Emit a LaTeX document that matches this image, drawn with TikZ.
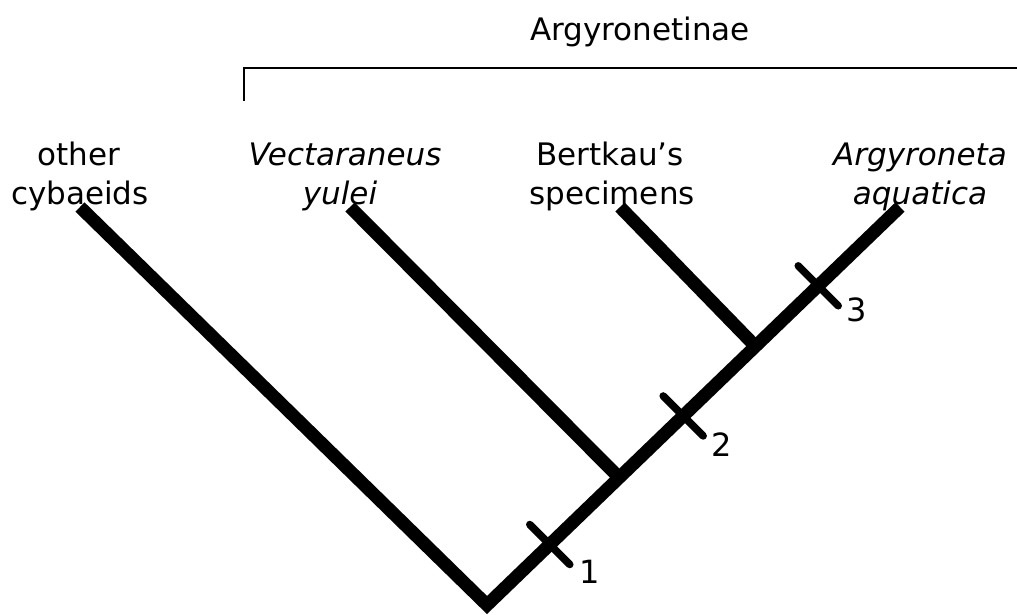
\documentclass[tikz,border=0pt]{standalone}
\usepackage{fontspec}
\setmainfont{DejaVu Sans}
\usetikzlibrary{calc}
\begin{document}
\begin{tikzpicture}[x=1pt,y=-1pt,
  branch/.style={line width=13pt, line join=miter, line cap=butt},
  tickmark/.style={line width=7.5pt, line cap=round},
  bracketline/.style={line width=2pt},
  lbl/.style={anchor=base, inner sep=0pt, font=\fontsize{31}{40}\selectfont},
  numlbl/.style={anchor=center, inner sep=0pt, font=\fontsize{32}{40}\selectfont}]
\useasboundingbox (0,0) rectangle (1017,615);
% tree coordinates
\coordinate (root) at (487,605);
\coordinate (tL) at (80,207);
\coordinate (tV) at (350,207);
\coordinate (tB) at (620,207);
\coordinate (tA) at (900,207);
\coordinate (jV) at ($(root)!0.32!(tA)$);
\coordinate (jB) at ($(root)!0.65!(tA)$);
\draw[branch] (tL) -- (root) -- (tA);
\draw[branch] (tV) -- (jV);
\draw[branch] (tB) -- (jB);
% ticks
\coordinate (k1) at ($(root)!0.152!(tA)$);
\coordinate (k2) at ($(root)!0.475!(tA)$);
\coordinate (k3) at ($(root)!0.802!(tA)$);
\draw[tickmark] ($(k1)+(-20,-20)$) coordinate (k1a) -- ($(k1)+(20,20)$) coordinate (k1b);
\draw[tickmark] ($(k2)+(-20,-20)$) coordinate (k2a) -- ($(k2)+(20,20)$) coordinate (k2b);
\draw[tickmark] ($(k3)+(-20,-20)$) coordinate (k3a) -- ($(k3)+(20,20)$) coordinate (k3b);
\node[numlbl] (n1) at (590,572) {1};
\node[numlbl] (n2) at (722,445) {2};
\node[numlbl] (n3) at (857,310) {3};
% bracket
\coordinate (bA) at (244,101);
\coordinate (bB) at (244,68);
\coordinate (bC) at (1017,68);
\draw[bracketline] (bA) -- (bB) -- (bC);
\node[lbl] (arg) at (640,41) {Argyronetinae};
% labels
\node[lbl] (l1a) at (79,165) {other};
\node[lbl] (l1b) at (80,204) {cybaeids};
\node[lbl] (l2a) at (345,165) {\itshape Vectaraneus};
\node[lbl] (l2b) at (340,204) {\itshape yulei};
\node[lbl] (l3a) at (610,165) {Bertkau’s};
\node[lbl] (l3b) at (612,204) {specimens};
\node[lbl] (l4a) at (920,165) {\itshape Argyroneta};
\node[lbl] (l4b) at (920,204) {\itshape aquatica};
\end{tikzpicture}
\end{document}
